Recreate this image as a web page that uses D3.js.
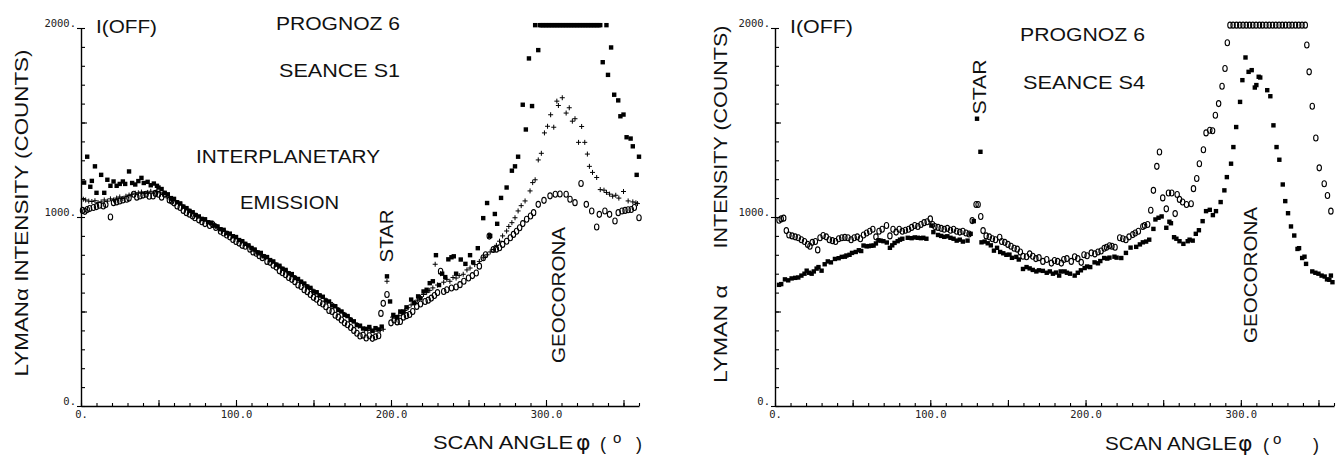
<!DOCTYPE html>
<html>
<head>
<meta charset="utf-8">
<script src="https://cdn.jsdelivr.net/npm/d3@7"></script>
<style>
  body { margin: 0; background: #fff; }
  svg { display: block; }
  .note { font-family: "Liberation Sans", Arial, sans-serif; fill: #111; }
  .tick text { font-family: "DejaVu Sans Mono", monospace; font-size: 10.5px; fill: #222; }
</style>
</head>
<body>
<div id="app"></div>
<script>
// ---- data (angle in degrees, counts) ----

// seance S1, filled squares
const s1Squares = [
  [2,1182],[4,1319],[6,1160],[7,1191],[9,1268],[10,1128],[13,1223],[15,1128],[17,1197],[19,1165],
  [21,1188],[23,1165],[25,1175],[27,1188],[28.5,1175],[31,1241],[33,1180],[35,1172],[37,1190],[39,1207],
  [40.5,1180],[43,1186],[45,1168],[47,1177],[49,1165],[50,1156],[52,1148],[54,1128],[56,1120],[58,1100],
  [60,1096],[62,1078],[64,1072],[66,1055],[68,1047],[70,1032],[72,1025],[74,1010],[76,1003],[78,990],
  [80,988],[82,972],[84,970],[86,955],[88,950],[90,935],[92,932],[94,915],[96,912],[98,898],
  [100,894],[102,878],[104,872],[106,858],[108,850],[110,836],[112,828],[114,812],[116,810],[118,792],
  [120,788],[122,772],[124,765],[126,748],[128,742],[130,726],[132,720],[134,702],[136,698],[138,678],
  [140,672],[142,658],[144,648],[146,632],[148,625],[150,606],[152,602],[154,585],[156,578],[158,558],
  [160,553],[162,532],[164,528],[166,508],[168,500],[170,482],[172,476],[174,456],[176,448],[178,428],
  [180,425],[182,410],[184,408],[186,418],[188,398],[190,412],[192,405],[194,420],[197.4,686],[199.4,553],
  [201.5,482],[204,470],[206,500],[208,500],[210,522],[213,563],[215,545],[217.5,580],[219,570],[221,606],
  [223,615],[225,650],[227,660],[229,798],[231,640],[233,700],[235,682],[237,776],[239,787],[240.5,792],
  [242,700],[245,775],[248,752],[251,798],[253,760],[256,835],[259.5,994],[262,1074],[264,900],[267,1016],
  [268.5,964],[271,1101],[274.6,1156],[278,1245],[280,1268],[282,1319],[285,1594],[287,1463],[289,1839],[291,1587],
  [293,2015],[295,1883],[296,2015],[297,2015],[298,2015],[299,2015],[300,2015],[301,2015],[302,2015],[303,2015],
  [304,2015],[305,2015],[306,2015],[307,2015],[308,2015],[309,2015],[310,2015],[311,2015],[312,2015],[313,2015],
  [314,2015],[315,2015],[316,2015],[317,2015],[318,2015],[319,2015],[320,2015],[321,2015],[322,2015],[323,2015],
  [324,2015],[325,2015],[326,2015],[327,2015],[328,2015],[329,2015],[330,2015],[331,2015],[332,2015],[333,2015],
  [334,2015],[335,2015],[339,2015],[336.6,1819],[340,1752],[342,1897],[344,1647],[346.6,1617],[348,1533],[350,1542],
  [352,1422],[354.6,1415],[356,1374],[358.5,1223],[360,1319]
];

// seance S1, crosses
const s1Plus = [
  [1.5,1094],[3,1090],[5,1084],[7,1082],[9,1086],[11,1076],[13,1080],[15,1090],[17,1084],[19,1096],
  [21,1090],[23,1100],[25,1106],[27,1098],[29,1110],[31,1116],[33,1120],[35,1126],[37,1128],[39,1132],
  [41,1124],[43,1130],[45,1136],[47,1128],[49,1135],[51,1128],[53,1120],[55,1110],[57,1102],[59,1088],
  [61,1085],[63,1072],[65,1064],[67,1048],[69,1042],[71,1026],[73,1020],[75,1004],[77,998],[79,986],
  [81,980],[83,968],[85,964],[87,950],[89,944],[91,930],[93,925],[95,910],[97,906],[99,893],
  [101,886],[103,872],[105,866],[107,850],[109,844],[111,830],[113,822],[115,808],[117,802],[119,786],
  [121,780],[123,766],[125,757],[127,742],[129,735],[131,720],[133,712],[135,696],[137,690],[139,672],
  [141,665],[143,650],[145,642],[147,626],[149,618],[151,600],[153,594],[155,578],[157,570],[159,552],
  [161,548],[163,528],[165,520],[167,502],[169,495],[171,478],[173,468],[175,450],[177,440],[179,422],
  [181,414],[183,404],[185,400],[187,406],[189,396],[191,404],[193,400],[195,406],[197.4,660],
  [201,470],[203,462],[205,480],[207,490],[209,505],[211,520],[213,535],[215,548],[217,560],[219,575],
  [221,590],[223,600],[225,612],[227,625],[228.5,750],[230,640],[232,700],[234,655],[236,670],[238,660],
  [240,680],[242,677],[244,690],[246.6,697],[249,720],[251,730],[254,748],[257,765],[259.5,784],[262,800],
  [264,815],[266,828],[268,850],[270,872],[272,900],[274.6,926],[276,950],[278,970],[280,996],[282,1032],
  [284,1060],[286.5,1085],[289.7,1138],[291.4,1182],[293,1197],[295,1302],[297,1337],[299,1445],[301,1480],[303,1541],
  [305,1475],[307,1613],[308,1590],[310.5,1631],[313,1550],[315,1578],[317,1507],[318.7,1520],[321,1395],[323,1479],
  [325,1395],[326.7,1333],[328,1268],[330,1236],[332.7,1209],[335,1145],[337.4,1142],[339,1130],[341,1121],[343,1110],
  [345,1115],[347,1100],[350,1135],[353,1085],[356,1080],[358,1075],[359,1071]
];

// seance S1, open circles
const s1Circles = [
  [1,1035],[2.5,1030],[4,1040],[5.5,1045],[8,1050],[10,1055],[12,1062],[14.4,1058],[16,1066],[19,1000],
  [21,1076],[23,1080],[25,1085],[27,1090],[29.5,1094],[31,1100],[34,1120],[36,1105],[38,1111],[40,1116],
  [42,1120],[44,1110],[46.5,1111],[48,1125],[50,1120],[52,1105],[54,1120],[57,1090],[58.5,1084],[60,1075],
  [62,1058],[64,1050],[66,1035],[68,1023],[70,1015],[72,1005],[73.5,996],[76,985],[78,975],[80,965],
  [83,955],[85,960],[87,945],[90,925],[92,915],[94,905],[96,895],[98,881],[100,870],[102,862],
  [104,850],[106,845],[109,830],[111,815],[113,808],[115,795],[117,785],[120,765],[122,760],[124,745],
  [126,735],[128,715],[130,705],[132,695],[134,680],[136,670],[138,658],[140,640],[142,632],[144,615],
  [146,605],[148,590],[150,575],[152,565],[154,548],[156,540],[158,525],[160,505],[162,500],[164,480],
  [166,470],[168,455],[170,440],[172,430],[174,415],[176,400],[178,385],[180,370],[182,375],[184,360],
  [186,372],[188,358],[190,366],[192,372],[193.5,490],[195,543],[197.4,590],
  [200,440],[202,455],[204,445],[206,447],[208,470],[210,478],[212,484],[214,500],[216.6,527],[219,540],
  [222,553],[224,560],[226,571],[228,585],[230,600],[232,713],[234,606],[236,615],[239,624],[242,630],
  [244.5,642],[247,660],[250,677],[252.5,690],[255,704],[257,740],[259.5,784],[261,800],[263.4,899],[266,828],
  [268,830],[270,837],[272,855],[274.6,872],[277,890],[279,908],[281,925],[283,943],[285,965],[287.5,988],
  [290,1005],[292,1023],[295,1067],[298.7,1088],[302.6,1112],[306,1120],[309,1122],[313,1120],[315.5,1094],[318.7,1076],
  [322.6,1177],[326,1067],[329.5,1032],[332.7,947],[334.4,1014],[338,1032],[341,1014],[344.5,979],[346.6,1023],[349,1032],
  [351,1035],[353,1038],[355,1040],[357,1050],[360,996]
];

// seance S4, open circles
const s4Circles = [
  [2.6,983],[4,990],[5.6,994],[7.3,928],[9,905],[11,900],[13,895],[15,890],[17,880],[19,870],
  [21,855],[22.5,845],[24,866],[26,870],[27.5,826],[29,890],[31,902],[33,895],[35,880],[37,875],
  [39,870],[41,885],[43,890],[45,892],[47,890],[49,880],[51,890],[53,895],[55,885],[57,905],
  [59,915],[61,925],[63,935],[65,895],[67,925],[69,935],[71.8,955],[74,900],[76,935],[78,920],
  [80,935],[82,925],[84,930],[86,935],[88,945],[90,955],[92,950],[94,960],[96,970],[98,975],
  [100,990],[101.5,960],[103,950],[105,945],[107,940],[109,935],[111,940],[113,930],[115,935],[117,925],
  [119,920],[121,925],[123,915],[125,910],[127,981],[129.5,1066],[130.8,1066],[132.5,1003],[134,928],[136,900],
  [138,895],[140,885],[142,880],[144.7,893],[146,870],[148,866],[150,855],[152,845],[154,835],[156,830],
  [158,815],[159.7,792],[162,790],[164,805],[166,792],[168,780],[170,785],[172.5,765],[175,775],[178,756],
  [180,770],[182,765],[184.4,756],[186,775],[188,780],[190.8,765],[193,790],[195,780],[197.2,760],[199,800],
  [201,795],[203.7,810],[206,805],[208,815],[210,820],[212,835],[213.5,840],[215.4,848],[217,845],[219,840],
  [222,890],[224,885],[226,880],[228,895],[230.4,907],[232,915],[234,925],[236.9,950],[238,955],[240,960],
  [242,1036],[243.7,1141],[245.9,1268],[247.6,1344],[249.7,1101],[252,1043],[253.4,1127],[255.5,1127],[257.7,1018],[259,1119],
  [260.5,1093],[262.5,1079],[265,1066],[268,1070],[269.5,1150],[271.6,1204],[273.3,1282],[275.9,1356],[277.6,1445],[280,1459],
  [281.8,1456],[283.6,1538],[285.7,1600],[287.9,1692],[289.8,1786],[291.3,1922],
  [293,2015],[295,2015],[297.2,2015],[299.3,2015],[301.4,2015],[303.5,2015],[305.6,2015],[307.7,2015],[309.8,2015],[312,2015],
  [314,2015],[316.2,2015],[318.3,2015],[320.4,2015],[322.5,2015],[324.6,2015],[326.7,2015],[328.8,2015],[331,2015],[333,2015],
  [335.2,2015],[337.3,2015],[339.4,2015],[341.5,2015],
  [342.5,1910],[344,1768],[346,1586],[348.3,1418],[350.5,1260],[353.7,1176],[355.8,1114],[358,1031]
];

// seance S4, filled squares
const s4Squares = [
  [2.6,641],[4,645],[6.4,670],[8.5,665],[10.7,675],[13,678],[15,680],[17,690],[19,700],[20.4,716],
  [22,705],[23.6,700],[25,712],[26.8,727],[28,735],[30,716],[32,750],[34,765],[36,760],[38.6,778],
  [41,782],[43,789],[45,790],[46,796],[48,800],[49.6,810],[52,815],[54,824],[55.5,820],[57,849],
  [59,845],[60.4,846],[62,848],[63.5,849],[65,860],[66.6,877],[68,875],[69.8,872],[72,865],[74,837],
  [75.5,850],[77,863],[79,872],[80.5,880],[82,885],[85.5,890],[88,888],[90,892],[92,890],[94,888],
  [95.5,890],[97.5,885],[100.7,955],[102,920],[105,905],[107,900],[109,895],[111,898],[113,890],[115,885],
  [117,875],[119,880],[121,870],[124,875],[126,911],[128,978],[130.1,1520],[132.3,1345],[133,866],[135,870],
  [137,861],[139,850],[141,822],[143,837],[145,815],[147,808],[149,800],[151,801],[152.6,784],[155.4,789],
  [157,775],[159.7,725],[162,735],[164,728],[166,720],[168.3,712],[170,718],[172.5,715],[175,705],[177,712],
  [179,700],[181,706],[183,690],[184,712],[186.5,712],[188,705],[190,700],[193,690],[195,705],[197,718],
  [199.4,730],[201,738],[203,735],[205.8,760],[208,755],[209.5,767],[212,783],[214,780],[215.4,785],[218.6,790],
  [220,785],[223,783],[226,810],[229,838],[232.6,842],[235,855],[236.9,866],[239,870],[241,880],[243.7,937],
  [245,987],[247,996],[249,1003],[252,943],[254,975],[255,967],[257,893],[258.5,885],[260.5,872],[263,858],
  [265.8,872],[267,880],[269,875],[271,911],[273,930],[275.4,978],[277.6,1031],[280,1038],[282,1010],[284,1031],
  [287,1079],[289.4,1141],[291,1211],[293.7,1282],[295.2,1370],[297,1476],[299.5,1609],[301,1724],[303,1844],[305,1768],
  [307,1777],[309,1685],[310,1698],[311.5,1742],[312.5,1738],[317,1671],[319,1639],[321,1485],[323,1370],[324.8,1303],
  [327,1172],[328.6,1084],[330.4,1020],[332.3,950],[334.4,902],[336.5,831],[337.5,835],[339.5,783],[341,790],[342,752],
  [346,712],[348,705],[350,700],[352,690],[354,685],[355.5,670],[357,668],[358,690],[359,655]
];

const xLabelTicks = [0, 100, 200, 300];
const yLabelTicks = [0, 1000, 2000];

const width = 1339;
const height = 459;

const svg = d3
  .select("#app")
  .append("svg")
  .attr("width", width)
  .attr("height", height);

svg.append("rect").attr("width", width).attr("height", height).attr("fill", "#fff");

function makePanel(left, right) {
  const x = d3.scaleLinear().domain([0, 360]).range([left, right]);
  const y = d3.scaleLinear().domain([0, 2000]).range([406, 28]);
  const g = svg.append("g");

  // x axis: small ticks every 10, longer every 50, labels every 100
  g.append("g")
    .attr("transform", `translate(0,${y(0)})`)
    .call(d3.axisBottom(x).tickValues(d3.range(0, 361, 10)).tickSize(-3).tickSizeOuter(0).tickFormat(""));
  g.append("g")
    .attr("transform", `translate(0,${y(0)})`)
    .call(d3.axisBottom(x).tickValues(d3.range(0, 351, 50)).tickSize(-6).tickSizeOuter(0).tickFormat(""))
    .select(".domain").remove();
  g.append("g")
    .attr("transform", `translate(0,${y(0)})`)
    .call(d3.axisBottom(x).tickValues(xLabelTicks).tickSize(0).tickPadding(5)
      .tickFormat((d) => (d === 0 ? "0." : d.toFixed(1))))
    .select(".domain").remove();

  // y axis: ticks every 100 pointing inward, labels with an outward dash
  g.append("g")
    .attr("transform", `translate(${x(0)},0)`)
    .call(d3.axisLeft(y).tickValues(d3.range(0, 2001, 100)).tickSize(-4).tickSizeOuter(0).tickFormat(""));
  g.append("g")
    .attr("transform", `translate(${x(0)},0)`)
    .call(d3.axisLeft(y).tickValues([500, 1500]).tickSize(-6).tickSizeOuter(0).tickFormat(""))
    .select(".domain").remove();
  const yl = g.append("g")
    .attr("transform", `translate(${x(0)},0)`)
    .call(d3.axisLeft(y).tickValues(yLabelTicks).tickSize(4).tickPadding(1)
      .tickFormat((d) => d + "."));
  yl.select(".domain").remove();
  yl.selectAll(".tick text").attr("dy", "-0.1em");

  g.selectAll(".domain").attr("stroke", "#000").attr("stroke-width", 1.4);
  g.selectAll(".tick line").attr("stroke", "#000").attr("stroke-width", 1.1);

  return { g, x, y };
}

function squares(p, data) {
  p.g.append("g")
    .selectAll("rect")
    .data(data)
    .join("rect")
    .attr("x", (d) => p.x(d[0]) - 2.2)
    .attr("y", (d) => p.y(d[1]) - 2.2)
    .attr("width", 4.4)
    .attr("height", 4.4)
    .attr("fill", "#000");
}

function circles(p, data) {
  p.g.append("g")
    .selectAll("ellipse")
    .data(data)
    .join("ellipse")
    .attr("cx", (d) => p.x(d[0]))
    .attr("cy", (d) => p.y(d[1]))
    .attr("rx", 2.2)
    .attr("ry", 3)
    .attr("fill", "none")
    .attr("stroke", "#000")
    .attr("stroke-width", 1.1);
}

function pluses(p, data) {
  p.g.append("g")
    .selectAll("path")
    .data(data)
    .join("path")
    .attr("d", (d) => {
      const cx = p.x(d[0]), cy = p.y(d[1]);
      return `M${cx - 2.5},${cy}H${cx + 2.5}M${cx},${cy - 2.5}V${cy + 2.5}`;
    })
    .attr("stroke", "#000")
    .attr("stroke-width", 1);
}

function note(txt, x, y, len, size, rotate) {
  const t = svg.append("text")
    .attr("class", "note")
    .attr("font-size", size)
    .text(txt);
  if (len) t.attr("textLength", len).attr("lengthAdjust", "spacingAndGlyphs");
  if (rotate) {
    t.attr("text-anchor", "middle").attr("transform", `translate(${x},${y}) rotate(-90)`);
  } else {
    t.attr("x", x).attr("y", y);
  }
  return t;
}

// angle axis label with a raised degree sign
function angleLabel(x0, base, phiX, openX, degX, closeX, len) {
  note("SCAN ANGLE", x0, base, len, 19);
  note("\u03c6", phiX, base + 1, 0, 22).style("font-family", "DejaVu Sans");
  note("(", openX, base + 1, 0, 18);
  note("o", degX, base - 6, 0, 15);
  note(")", closeX, base + 1, 0, 18);
}

// ---- left panel: seance S1 ----
const left = makePanel(81, 639);
circles(left, s1Circles);
pluses(left, s1Plus);
squares(left, s1Squares);

note("I(OFF)", 96, 33, 61, 18);
note("PROGNOZ 6", 276, 30, 124, 18);
note("SEANCE S1", 279, 77, 121, 18);
note("INTERPLANETARY", 196, 163, 184, 18);
note("EMISSION", 240, 209, 99, 18);
note("STAR", 393, 236, 53, 18, true);
note("GEOCORONA", 565, 295, 136, 18, true);
note("LYMAN\u03b1 INTENSITY (COUNTS)", 28, 213, 327, 19, true);
angleLabel(433, 449, 576, 600, 613, 636, 140);

// ---- right panel: seance S4 ----
const right = makePanel(775, 1334);
circles(right, s4Circles);
squares(right, s4Squares);

note("I(OFF)", 790, 33, 63, 18);
note("PROGNOZ 6", 1020, 41, 125, 18);
note("SEANCE S4", 1023, 89, 122, 18);
note("STAR", 986, 87, 55, 18, true);
note("GEOCORONA", 1257, 275, 136, 18, true);
note("INTENSITY (COUNTS)", 727, 137, 223, 19, true);
note("LYMAN \u03b1", 727, 334, 98, 19, true);
angleLabel(1105, 450, 1238, 1263, 1273, 1313, 132);
</script>
</body>
</html>
